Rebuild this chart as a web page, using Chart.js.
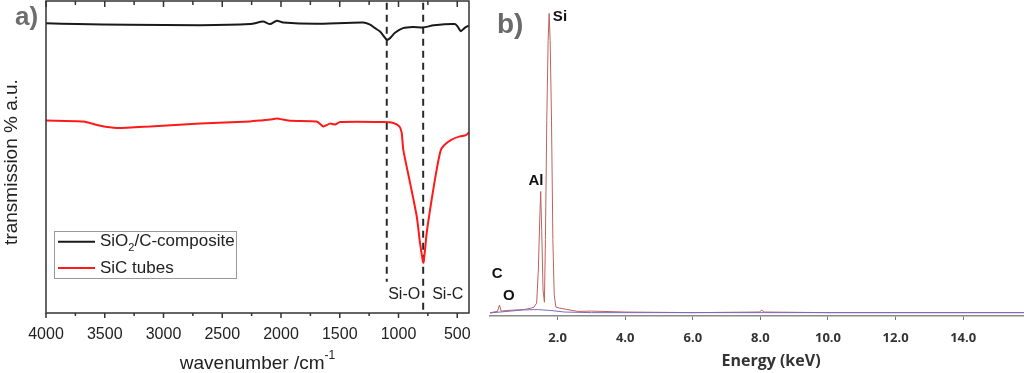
<!DOCTYPE html>
<html lang="en">
<head>
<meta charset="UTF-8"/>
<title>FTIR and EDX spectra</title>
<script src="https://cdn.jsdelivr.net/npm/chart.js"></script>
<style>
    html, body { margin: 0; padding: 0; background: #fff; }
    #wrap { position: relative; width: 1024px; height: 373px; overflow: hidden; }
    #ftir { position: absolute; left: 0; top: 0; }
    #edx { position: absolute; left: 480px; top: 0; }
</style>
</head>
<body>
<div id="wrap">
    <canvas id="ftir" width="480" height="373"></canvas>
    <canvas id="edx" width="544" height="373"></canvas>
</div>
<script>
// ---- a) FTIR ----
const wnBlack = [4000, 3736, 3300, 2688, 2263, 2152, 2093, 2036, 1982, 1702, 1302, 1242, 1200, 1157, 1100, 1072, 1030, 962, 877, 792, 700, 521, 496, 470, 436, 402];
const tBlack  = [92.9, 92.6, 92.4, 92.2, 92.6, 93.4, 92.6, 93.7, 93.1, 92.7, 93.1, 92.4, 91.3, 90.2, 87.6, 88.1, 89.8, 91.3, 91.7, 91.5, 92.2, 92.6, 91.8, 90.3, 91.4, 92.1];

const wnRed = [4000, 3683, 3538, 3396, 3113, 2688, 2263, 2152, 2093, 2036, 1982, 1923, 1696, 1640, 1583, 1540, 1498, 1132, 1044, 993, 973, 959, 902, 845, 817, 789, 774, 760, 718, 670, 639, 596, 548, 477, 426, 400];
const tRed  = [61.7, 61.4, 60.0, 59.3, 59.8, 60.7, 61.4, 61.8, 62.0, 62.3, 62.0, 61.6, 61.4, 59.8, 60.7, 60.4, 61.2, 61.2, 60.9, 59.8, 57.8, 52.3, 41.8, 31.0, 22.5, 16.1, 20.3, 25.7, 36.3, 47.0, 52.3, 54.3, 55.6, 56.6, 57.0, 57.9];

const wnTicks = [4000, 3500, 3000, 2500, 2000, 1500, 1000, 500];
const bondWn = [1100, 790];
const bondNames = ['Si-O', 'Si-C'];

// ---- b) EDX ----
const energyKeV = [0, 0.1, 0.22, 0.28, 0.33, 0.5, 0.8, 1.0, 1.2, 1.3, 1.38, 1.43, 1.47, 1.50, 1.53, 1.57, 1.61, 1.64, 1.68, 1.72, 1.75, 1.78, 1.82, 1.86, 1.90, 1.95, 2.05, 2.25, 2.6, 3.0, 4.0, 6.0, 7.98, 8.04, 8.1, 10.0, 12.0, 14.0, 15.8];
const counts    = [1.0, 1.3, 1.5, 3.6, 1.6, 1.8, 2.0, 2.1, 2.5, 2.9, 4.2, 15, 31, 40.7, 28, 8.5, 4.5, 25, 64, 90, 98.9, 90, 64, 25, 6.9, 2.9, 2.6, 2.2, 1.5, 1.6, 1.3, 1.1, 1.3, 2.0, 1.3, 1.1, 1.1, 1.1, 1.1];
const bgEnergy = [0, 0.5, 1.0, 1.4, 1.8, 2.2, 3.0, 15.8];
const bgCounts = [1.0, 1.5, 2.0, 2.1, 1.8, 1.3, 1.1, 1.1];
const energyTicks = [2, 4, 6, 8, 10, 12, 14];
const peakNames = ['C', 'O', 'Al', 'Si'];
const peakLabelKeV = [0.21, 0.56, 1.36, 2.07];
const peakLabelCounts = [13.7, 6.5, 44.2, 97.7];

const toPoints = (xs, ys) => xs.map((x, i) => ({ x: x, y: ys[i] }));
const SANS = '"Liberation Sans", Arial, sans-serif';

// dessin du cadre, ticks, legende et textes du panneau a)
const ftirDecor = {
    id: 'ftirDecor',
    afterDatasetsDraw(chart) {
        const { ctx, chartArea: a, scales: { x, y } } = chart;
        ctx.save();
        ctx.strokeStyle = '#333';
        ctx.lineWidth = 1.5;
        ctx.strokeRect(a.left, a.top, a.right - a.left, a.bottom - a.top);
        x.ticks.forEach(t => {
            const px = x.getPixelForValue(t.value);
            const major = t.value % 500 === 0;
            ctx.beginPath();
            ctx.moveTo(px, a.bottom);
            ctx.lineTo(px, a.bottom + (major ? 5 : 3));
            ctx.moveTo(px, a.top);
            ctx.lineTo(px, a.top + (major ? 6 : 4));
            ctx.stroke();
        });

        // Si-O / Si-C
        ctx.fillStyle = '#222';
        ctx.font = '16px ' + SANS;
        ctx.textBaseline = 'middle';
        const pxC = x.getPixelForValue(bondWn[1]);
        ctx.textAlign = 'right';
        ctx.fillText(bondNames[0], pxC - 3, 295);
        ctx.textAlign = 'left';
        ctx.fillText(bondNames[1], pxC + 9, 295);

        // legende
        ctx.strokeStyle = '#999';
        ctx.lineWidth = 1;
        ctx.strokeRect(54.5, 231.5, 182, 47);
        const rows = [241.7, 268];
        chart.data.datasets.filter(d => d.inLegend).forEach((d, i) => {
            ctx.strokeStyle = d.borderColor;
            ctx.lineWidth = 2;
            ctx.beginPath();
            ctx.moveTo(58, rows[i]);
            ctx.lineTo(95, rows[i]);
            ctx.stroke();
            ctx.fillStyle = '#222';
            ctx.textAlign = 'left';
            let tx = 100;
            d.legendParts.forEach(p => {
                ctx.font = (p.sub ? '11px ' : '17px ') + SANS;
                ctx.fillText(p.t, tx, rows[i] + (p.sub ? 6 : 0));
                tx += ctx.measureText(p.t).width;
            });
        });

        // titre axe x avec exposant
        ctx.fillStyle = '#222';
        ctx.font = '19px ' + SANS;
        const main = 'wavenumber /cm';
        const wMain = ctx.measureText(main).width;
        ctx.font = '12px ' + SANS;
        const wSup = ctx.measureText('-1').width;
        let sx = (a.left + a.right) / 2 - (wMain + wSup) / 2;
        ctx.font = '19px ' + SANS;
        ctx.textAlign = 'left';
        ctx.fillText(main, sx, 364);
        ctx.font = '12px ' + SANS;
        ctx.fillText('-1', sx + wMain, 356);

        // titre axe y
        ctx.save();
        ctx.translate(12, 162);
        ctx.rotate(-Math.PI / 2);
        ctx.textAlign = 'center';
        ctx.font = '19px ' + SANS;
        ctx.fillText('transmission % a.u.', 0, 0);
        ctx.restore();

        // a)
        ctx.fillStyle = '#6d6d6d';
        ctx.font = 'bold 26px ' + SANS;
        ctx.textAlign = 'left';
        ctx.textBaseline = 'alphabetic';
        ctx.fillText('a)', 15, 25);
        ctx.restore();
    }
};

new Chart(document.getElementById('ftir'), {
    type: 'line',
    data: {
        datasets: [
            {
                data: toPoints(wnBlack, tBlack), borderColor: '#1a1a1a', borderWidth: 2,
                pointRadius: 0, tension: 0.2, inLegend: true,
                legendParts: [{ t: 'SiO' }, { t: '2', sub: true }, { t: '/C-composite' }]
            },
            {
                data: toPoints(wnRed, tRed), borderColor: '#ff1a1a', borderWidth: 2,
                pointRadius: 0, tension: 0.2, inLegend: true,
                legendParts: [{ t: 'SiC tubes' }]
            },
            {
                data: [{ x: bondWn[0], y: 99.4 }, { x: bondWn[0], y: 10 }], borderColor: '#2a2a2a',
                borderWidth: 2, borderDash: [7, 5], pointRadius: 0
            },
            {
                data: [{ x: bondWn[1], y: 99.4 }, { x: bondWn[1], y: 0 }], borderColor: '#2a2a2a',
                borderWidth: 2, borderDash: [7, 5], pointRadius: 0
            }
        ]
    },
    options: {
        responsive: false,
        animation: false,
        layout: { padding: { left: 46, right: 11, top: 1, bottom: 0 } },
        plugins: { legend: { display: false }, tooltip: { enabled: false } },
        scales: {
            x: {
                type: 'linear', reverse: true, min: 400, max: 4000,
                afterBuildTicks: s => {
                    const t = [];
                    wnTicks.forEach(v => { t.push({ value: v }); if (v > 500) t.push({ value: v - 250 }); });
                    s.ticks = t;
                },
                afterFit: s => { s.height = 60; s.paddingLeft = 0; s.paddingRight = 0; },
                grid: { display: false, drawTicks: false },
                border: { display: false },
                ticks: {
                    autoSkip: false, maxRotation: 0, padding: 12, color: '#222',
                    font: { family: SANS, size: 16 },
                    callback: v => (v % 500 === 0 ? String(v) : '')
                }
            },
            y: { display: false, min: 0, max: 100 }
        }
    },
    plugins: [ftirDecor]
});

// textes du panneau b)
const edxDecor = {
    id: 'edxDecor',
    afterDatasetsDraw(chart) {
        const { ctx, chartArea: a, scales: { x, y } } = chart;
        ctx.save();
        ctx.fillStyle = '#111';
        ctx.font = 'bold 15px ' + SANS;
        ctx.textAlign = 'center';
        ctx.textBaseline = 'middle';
        peakNames.forEach((n, i) => {
            ctx.fillText(n, x.getPixelForValue(peakLabelKeV[i]), y.getPixelForValue(peakLabelCounts[i]));
        });
        ctx.fillStyle = '#333';
        ctx.font = 'bold 16px "Open Sans", sans-serif';
        ctx.fillText('Energy (keV)', 291, 361);
        ctx.fillStyle = '#6a6a6a';
        ctx.font = 'bold 28px ' + SANS;
        ctx.textAlign = 'left';
        ctx.textBaseline = 'alphabetic';
        ctx.fillText('b)', 17, 33);
        ctx.restore();
    }
};

new Chart(document.getElementById('edx'), {
    type: 'line',
    data: {
        datasets: [
            { data: toPoints(bgEnergy, bgCounts), borderColor: '#7a6cc0', borderWidth: 1, pointRadius: 0, order: 0 },
            { data: toPoints(energyKeV, counts), borderColor: '#c0605e', borderWidth: 1, pointRadius: 0, order: 1 }
        ]
    },
    options: {
        responsive: false,
        animation: false,
        layout: { padding: { left: 10, right: 0, top: 10, bottom: 0 } },
        plugins: { legend: { display: false }, tooltip: { enabled: false } },
        scales: {
            x: {
                type: 'linear', min: 0, max: 15.8,
                afterBuildTicks: s => { s.ticks = energyTicks.map(v => ({ value: v })); },
                afterFit: s => { s.height = 57; s.paddingLeft = 0; s.paddingRight = 0; },
                grid: { display: true, drawOnChartArea: false, tickLength: 4, color: '#777' },
                border: { display: true, color: '#8a8a8a', width: 1.5 },
                ticks: {
                    autoSkip: false, maxRotation: 0, padding: 10, color: '#333',
                    font: { family: '"Open Sans", sans-serif', size: 13, weight: 'bold' },
                    callback: v => v.toFixed(1)
                }
            },
            y: { display: false, min: 0, max: 100 }
        }
    },
    plugins: [edxDecor]
});
</script>
</body>
</html>
